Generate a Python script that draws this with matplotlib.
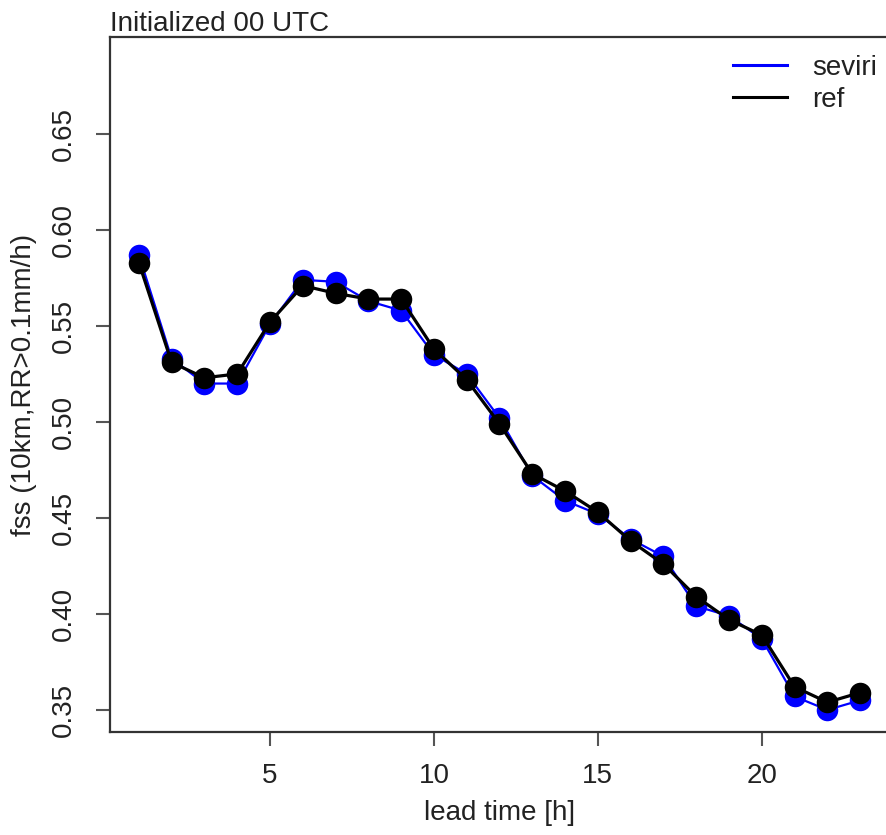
import numpy as np
import matplotlib
matplotlib.use('Agg')
import matplotlib.pyplot as plt
from matplotlib.lines import Line2D

plt.rcParams['font.family'] = ['Liberation Sans', 'DejaVu Sans']

# lead time in hours
lead_time = np.arange(1, 24)

# fss values
seviri = [0.587, 0.533, 0.520, 0.520, 0.551, 0.574, 0.573, 0.563, 0.558, 0.535,
          0.525, 0.502, 0.472, 0.459, 0.452, 0.439, 0.430, 0.404, 0.399, 0.387,
          0.357, 0.350, 0.355]
ref = [0.583, 0.531, 0.523, 0.525, 0.552, 0.571, 0.567, 0.564, 0.564, 0.538,
       0.522, 0.499, 0.473, 0.464, 0.453, 0.438, 0.426, 0.409, 0.397, 0.389,
       0.362, 0.354, 0.359]

y_ticks = [0.35, 0.40, 0.45, 0.50, 0.55, 0.60, 0.65]
x_ticks = [5, 10, 15, 20]

fig = plt.figure(figsize=(8.87, 8.35), dpi=100)
ax = fig.add_axes([110 / 887, 1 - 732 / 835, 779 / 887, 695 / 835])

ax.plot(lead_time, seviri, color='#0000ff', lw=1.6, marker='o', ms=15.5,
        mew=0, label='seviri', zorder=2)
ax.plot(lead_time, ref, color='black', lw=2.3, marker='o', ms=15.5,
        mew=0, label='ref', zorder=3)

ax.set_xlim(0.12, 23.88)
ax.set_ylim(0.3385, 0.7005)
ax.set_xticks(x_ticks)
ax.set_yticks(y_ticks)
ax.set_yticklabels(['%.2f' % v for v in y_ticks], rotation=90, va='center')
ax.tick_params(axis='both', labelsize=20, length=10, width=1.5,
               color='#555555', labelcolor='#222222')
ax.tick_params(axis='x', pad=12)
ax.tick_params(axis='y', pad=14)
for sp in ax.spines.values():
    sp.set_linewidth(1.6)
    sp.set_color('#333333')
# the box's right edge falls just outside the picture
ax.spines['right'].set_visible(False)

ax.set_xlabel('lead time [h]', fontsize=20, color='#222222', labelpad=8)
ax.set_ylabel('fss (10km,RR>0.1mm/h)', fontsize=20, color='#222222', labelpad=10)
ax.set_title('Initialized 00 UTC', loc='left', fontsize=20, color='#222222', pad=4)

# legend without frame, lines only
handles = [Line2D([], [], color='#0000ff', lw=2.2),
           Line2D([], [], color='black', lw=2.2)]
fig.legend(handles, ['seviri', 'ref'], loc='upper left',
           bbox_to_anchor=(733 / 887, 1 - 55 / 835), frameon=False,
           fontsize=20, borderpad=0, borderaxespad=0, handlelength=1.95,
           handletextpad=0.9, labelspacing=0.2, labelcolor='#222222')

fig.savefig('out.png', dpi=100)
